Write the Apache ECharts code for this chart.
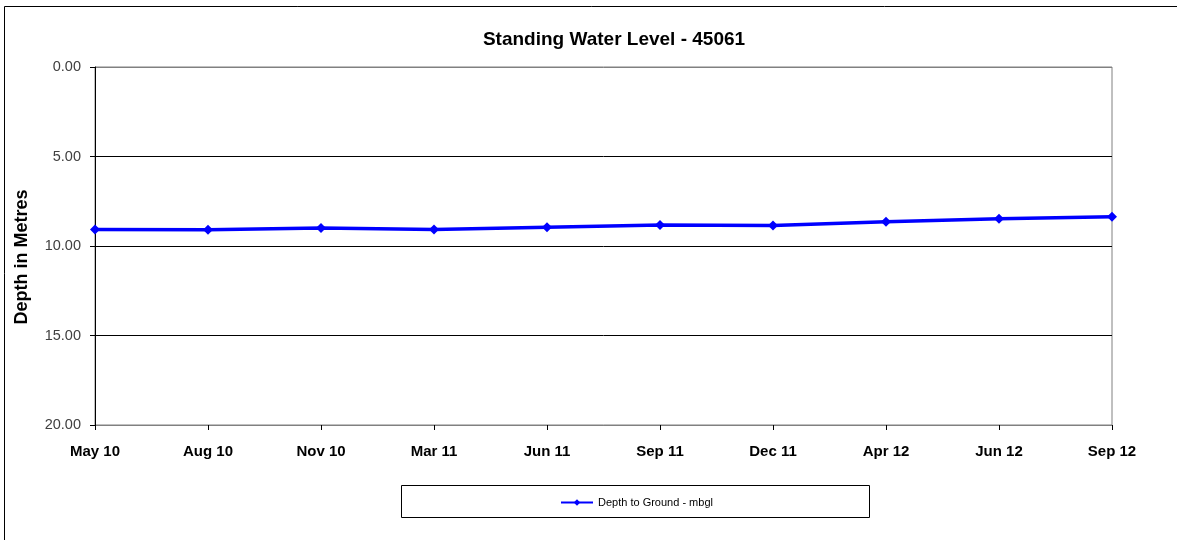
<!DOCTYPE html>
<html>
<head>
<meta charset="utf-8">
<script src="https://cdn.jsdelivr.net/npm/echarts@6/dist/echarts.min.js"></script>
<style>
  html, body { margin: 0; padding: 0; background: #fff; }
  #chart { width: 1177px; height: 540px; }
</style>
</head>
<body>
<div id="chart"></div>
<script>
const categories = ["May 10", "Aug 10", "Nov 10", "Mar 11", "Jun 11", "Sep 11", "Dec 11", "Apr 12", "Jun 12", "Sep 12"];
const depthToGround = [9.08, 9.09, 9.0, 9.08, 8.95, 8.83, 8.85, 8.64, 8.48, 8.37];
const yTicks = [0, 5, 10, 15, 20];

const chart = echarts.init(document.getElementById("chart"));
const font = "Liberation Sans, Arial, sans-serif";

chart.setOption({
  animation: false,
  grid: {
    left: 95,
    right: 65,
    top: 67,
    bottom: 115,
    show: true,
    borderColor: "#808080",
    borderWidth: 1,
  },
  legend: {
    data: ["Depth to Ground - mbgl"],
    left: 560,
    top: 497,
    itemWidth: 32,
    itemHeight: 8,
    itemGap: 4,
    padding: 0,
    textStyle: { fontFamily: font, fontSize: 11, color: "#000" },
  },
  graphic: [
    {
      type: "polyline",
      shape: { points: [[4.5, 545], [4.5, 6.5], [1180, 6.5]] },
      style: { fill: "none", stroke: "#000", lineWidth: 1 },
      silent: true,
    },
    {
      type: "rect",
      shape: { x: 401.5, y: 485.5, width: 468, height: 32 },
      style: { fill: "none", stroke: "#000", lineWidth: 1 },
      silent: true,
    },
    {
      type: "text",
      x: 614,
      y: 40,
      style: {
        text: "Standing Water Level - 45061",
        fontFamily: font,
        fontSize: 19,
        fontWeight: "bold",
        fill: "#000",
        align: "center",
        verticalAlign: "middle",
      },
      silent: true,
    },
    {
      type: "text",
      x: 22,
      y: 257,
      rotation: Math.PI / 2,
      style: {
        text: "Depth in Metres",
        fontFamily: font,
        fontSize: 18,
        fontWeight: "bold",
        fill: "#000",
        align: "center",
        verticalAlign: "middle",
      },
      silent: true,
    },
  ],
  xAxis: {
    type: "category",
    data: categories,
    boundaryGap: false,
    position: "bottom",
    axisLine: { onZero: false, lineStyle: { color: "#808080", width: 1 } },
    axisTick: { show: true, length: 5, lineStyle: { color: "#000" } },
    axisLabel: {
      fontFamily: font,
      fontSize: 15,
      fontWeight: "bold",
      color: "#000",
      margin: 19,
    },
    splitLine: { show: false },
  },
  yAxis: {
    type: "value",
    inverse: true,
    min: yTicks[0],
    max: yTicks[yTicks.length - 1],
    interval: 5,
    axisLine: { show: true, lineStyle: { color: "#000", width: 1 } },
    axisTick: { show: true, length: 5, lineStyle: { color: "#000" } },
    axisLabel: {
      fontFamily: font,
      fontSize: 14.5,
      color: "#404040",
      margin: 14,
      formatter: (v) => v.toFixed(2),
    },
    splitLine: {
      show: true,
      lineStyle: { color: ["#808080", "#000", "#000", "#000", "#808080"], width: 1 },
    },
  },
  series: [
    {
      name: "Depth to Ground - mbgl",
      type: "line",
      data: depthToGround,
      symbol: "diamond",
      symbolSize: 10,
      lineStyle: { color: "#0000FF", width: 3.5 },
      itemStyle: { color: "#0000FF" },
    },
  ],
});
</script>
</body>
</html>
